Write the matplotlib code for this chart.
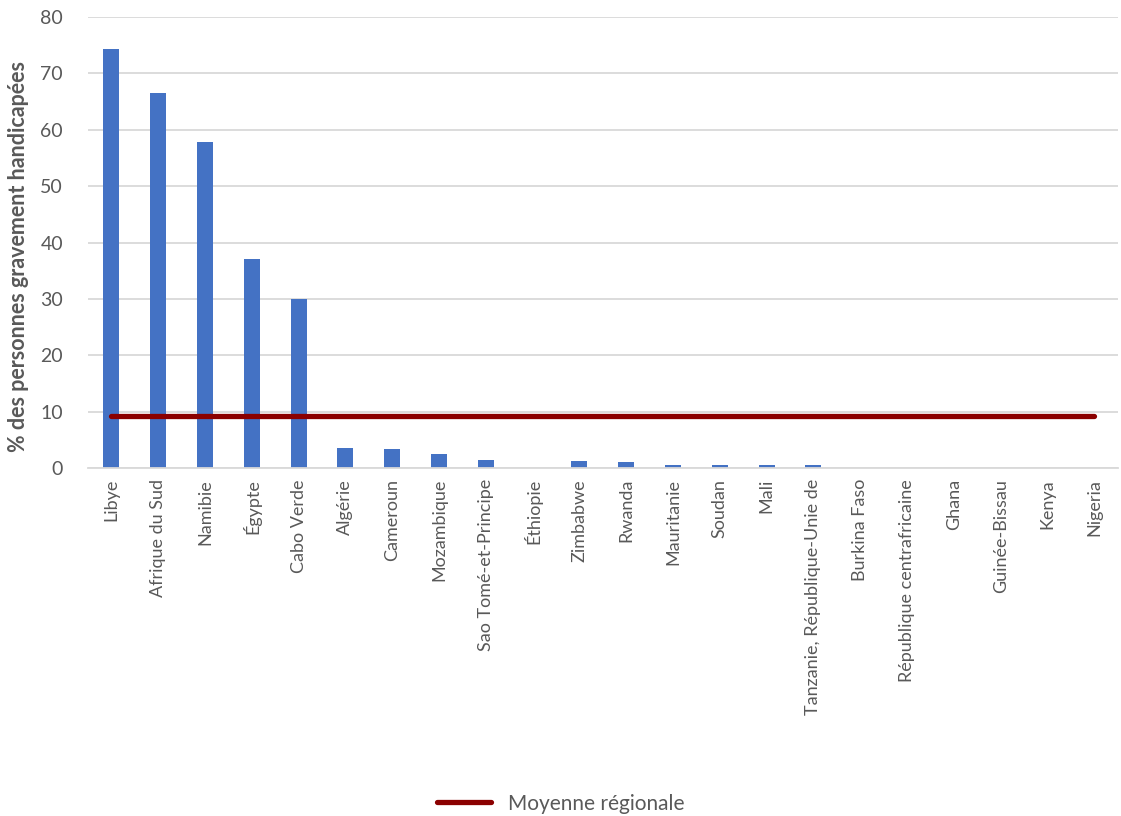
import matplotlib
matplotlib.use("Agg")
from matplotlib import pyplot as plt
import numpy as np

plt.rcParams['font.family'] = ['Lato', 'DejaVu Sans']

# données
pays = ["Libye", "Afrique du Sud", "Namibie", "Égypte", "Cabo Verde", "Algérie",
        "Cameroun", "Mozambique", "Sao Tomé-et-Principe", "Éthiopie", "Zimbabwe",
        "Rwanda", "Mauritanie", "Soudan", "Mali", "Tanzanie, République-Unie de",
        "Burkina Faso", "République centrafricaine", "Ghana", "Guinée-Bissau",
        "Kenya", "Nigeria"]
valeurs = [74.3, 66.5, 57.9, 37.0, 30.0, 3.5, 3.3, 2.4, 1.5, 0.0, 1.3,
           1.0, 0.6, 0.6, 0.6, 0.6, 0.0, 0.0, 0.0, 0.0, 0.0, 0.0]
moyenne = 9.2
y_ticks = [0, 10, 20, 30, 40, 50, 60, 70, 80]

gris = '#595959'

fig = plt.figure(figsize=(11.21, 8.16), dpi=100)
ax = fig.add_axes([0.0785, 0.4265, 0.9185, 0.5525])

x = np.arange(len(pays))
ax.bar(x, valeurs, width=0.34, color='#4472C4', zorder=2)
ax.plot(x, [moyenne] * len(pays), color='#8B0000', linewidth=3.8,
        solid_capstyle='round', zorder=3, label='Moyenne régionale')

ax.set_xlim(-0.5, len(pays) - 0.5)
ax.set_ylim(0, 80)
ax.set_yticks(y_ticks)
ax.yaxis.grid(True, color='#D9D9D9', linewidth=1.3, zorder=0)
ax.set_axisbelow(True)

ax.set_xticks(x)
ax.set_xticklabels(pays, rotation=90, fontsize=13, color=gris)
ax.tick_params(axis='y', labelsize=14, colors=gris, length=0, pad=18)
ax.tick_params(axis='x', length=0, pad=8)

for s in ['top', 'right', 'left']:
    ax.spines[s].set_visible(False)
ax.spines['bottom'].set_color('#D9D9D9')
ax.spines['bottom'].set_linewidth(1.3)

# titre de l'axe y, centré un peu plus bas comme dans l'original
ax.set_ylabel('% des personnes gravement handicapées', fontsize=15.5,
              fontweight='bold', color=gris)
ax.yaxis.set_label_coords(-0.057, 0.47)

fig.legend(loc='lower center', bbox_to_anchor=(0.5, -0.02), frameon=False,
           fontsize=15, labelcolor=gris, handlelength=2.6)

fig.savefig('out.png', dpi=100)
